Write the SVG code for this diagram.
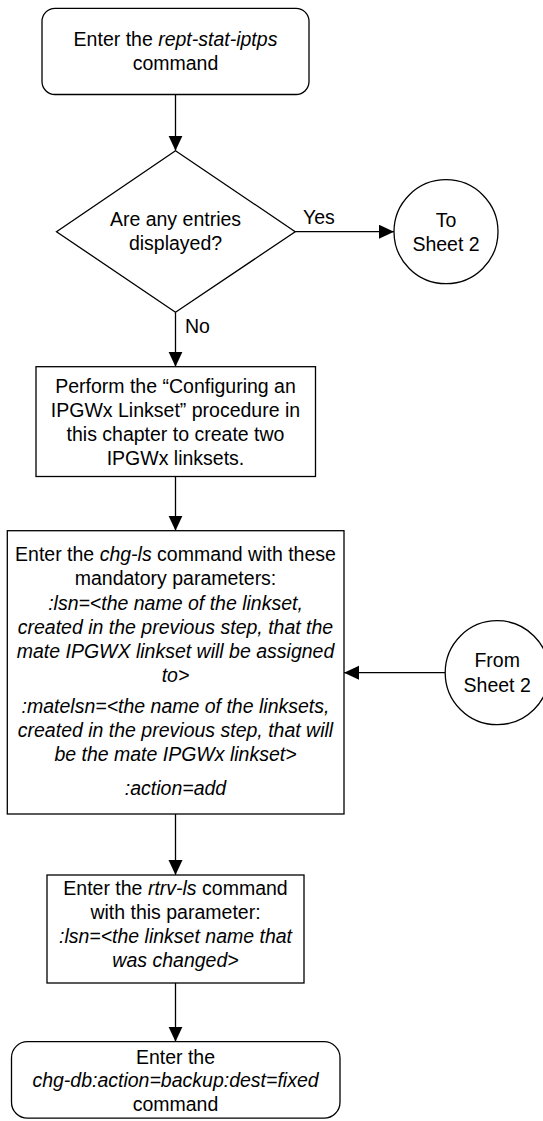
<svg xmlns="http://www.w3.org/2000/svg" width="543" height="1121" viewBox="0 0 543 1121">
<style>
.s{fill:#fff;stroke:#000;stroke-width:1.3}
text{font-family:"Liberation Sans",Arial,sans-serif;font-size:19.5px;fill:#000}
.c{text-anchor:middle}
.i{font-style:italic}
.e{fill:none;stroke:#000;stroke-width:1.3}
</style>
<defs>
<marker id="ah" markerUnits="userSpaceOnUse" markerWidth="16" markerHeight="15" refX="15" refY="7" orient="auto">
<path d="M0,0 L15,7 L0,14 z" fill="#000"/>
</marker>
</defs>
<g id="connectors">
<line class="e" x1="175.5" y1="94.5" x2="175.5" y2="150.7" marker-end="url(#ah)"/>
<line class="e" x1="295.2" y1="231.7" x2="394" y2="231.7" marker-end="url(#ah)"/>
<line class="e" x1="175.5" y1="312.3" x2="175.5" y2="366.7" marker-end="url(#ah)"/>
<line class="e" x1="175.5" y1="476.5" x2="175.5" y2="530.7" marker-end="url(#ah)"/>
<line class="e" x1="445.2" y1="672.7" x2="344" y2="672.7" marker-end="url(#ah)"/>
<line class="e" x1="175.5" y1="814" x2="175.5" y2="875" marker-end="url(#ah)"/>
<line class="e" x1="175.5" y1="983" x2="175.5" y2="1041.7" marker-end="url(#ah)"/>
<text x="303" y="224">Yes</text>
<text x="185" y="333">No</text>
</g>
<g id="start">
<rect class="s" x="42" y="8.3" width="267" height="86.2" rx="13"/>
<text class="c" x="175.5" y="46">Enter the <tspan class="i">rept-stat-iptps</tspan></text>
<text class="c" x="175.5" y="70">command</text>
</g>
<g id="decision">
<polygon class="s" points="175.5,150.7 295.2,231.7 175.5,312.3 56.5,231.7"/>
<text class="c" x="175.5" y="226">Are any entries</text>
<text class="c" x="175.5" y="250">displayed?</text>
</g>
<g id="to-sheet2">
<circle class="s" cx="446" cy="231.7" r="52"/>
<text class="c" x="446" y="226.7">To</text>
<text class="c" x="446" y="250.5">Sheet 2</text>
</g>
<g id="perform">
<rect class="s" x="36" y="366.7" width="279.5" height="109.8"/>
<text class="c" x="175.5" y="393">Perform the “Configuring an</text>
<text class="c" x="175.5" y="417">IPGWx Linkset” procedure in</text>
<text class="c" x="175.5" y="441">this chapter to create two</text>
<text class="c" x="175.5" y="465">IPGWx linksets.</text>
</g>
<g id="chg-ls">
<rect class="s" x="7.3" y="530.7" width="336.7" height="283.3"/>
<text class="c" x="175.5" y="561">Enter the <tspan class="i">chg-ls</tspan> command with these</text>
<text class="c" x="175.5" y="584.5">mandatory parameters:</text>
<text class="c i" x="175.5" y="609.5">:lsn=&lt;the name of the linkset,</text>
<text class="c i" x="175.5" y="633.5">created in the previous step, that the</text>
<text class="c i" x="175.5" y="657.5">mate IPGWX linkset will be assigned</text>
<text class="c i" x="175.5" y="682">to&gt;</text>
<text class="c i" x="175.5" y="712.5">:matelsn=&lt;the name of the linksets,</text>
<text class="c i" x="175.5" y="736.5">created in the previous step, that will</text>
<text class="c i" x="175.5" y="760.5">be the mate IPGWx linkset&gt;</text>
<text class="c i" x="175.5" y="795">:action=add</text>
</g>
<g id="from-sheet2">
<circle class="s" cx="497.2" cy="672.7" r="52"/>
<text class="c" x="497.2" y="666.7">From</text>
<text class="c" x="497.2" y="691.5">Sheet 2</text>
</g>
<g id="rtrv-ls">
<rect class="s" x="47" y="875" width="257" height="108"/>
<text class="c" x="175.5" y="895">Enter the <tspan class="i">rtrv-ls</tspan> command</text>
<text class="c" x="175.5" y="919">with this parameter:</text>
<text class="c i" x="175.5" y="943">:lsn=&lt;the linkset name that</text>
<text class="c i" x="175.5" y="967">was changed&gt;</text>
</g>
<g id="end">
<rect class="s" x="11.5" y="1041.7" width="328.5" height="76.5" rx="16"/>
<text class="c" x="175.5" y="1064">Enter the</text>
<text class="c i" x="175.5" y="1087">chg-db:action=backup:dest=fixed</text>
<text class="c" x="175.5" y="1111">command</text>
</g>
</svg>
